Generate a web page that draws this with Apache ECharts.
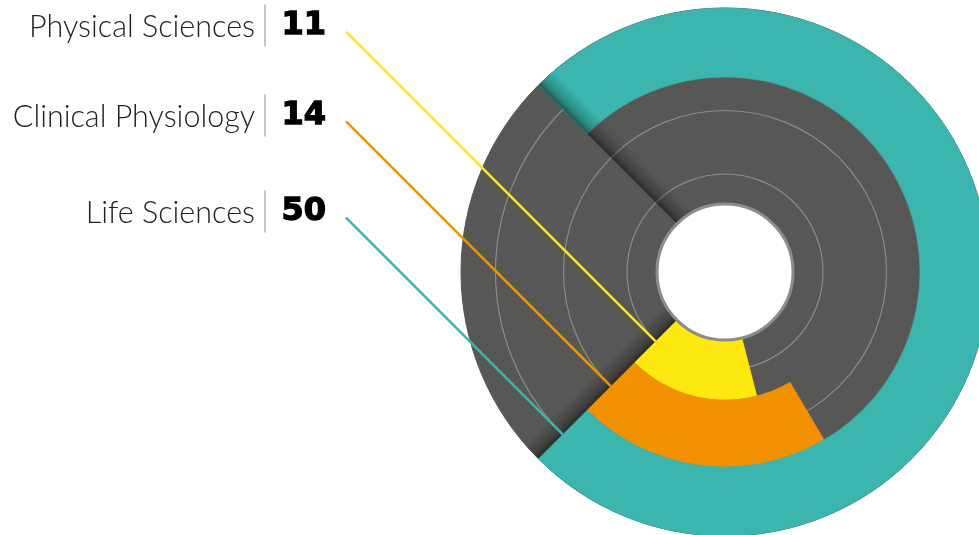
<!DOCTYPE html>
<html><head><meta charset="utf-8">
<script src="https://cdn.jsdelivr.net/npm/echarts@6/dist/echarts.min.js"></script>
<style>html,body{margin:0;padding:0;background:#fff}#c{width:979px;height:535px}</style>
</head><body><div id="c"></div>
<script>
// ---- data (rings listed inner -> outer) ----
const categories = ['Physical Sciences', 'Clinical Physiology', 'Life Sciences'];
const values = [11, 14, 50];
const colors = ['#fde910', '#f29100', '#3bb5ad'];
const angleMax = 66.7;

// ---- layout / style ----
const CENTER = [725, 272];
const RINGS = [[68, 128], [128, 195], [195, 264]];
const HOLE_R = 68;
const DARK = '#575755';
const LEAD_X = 346;

const chart = echarts.init(document.getElementById('c'), null, {renderer: 'canvas'});

const polar = RINGS.map(r => ({center: CENTER, radius: r}));
polar.push({center: CENTER, radius: HOLE_R});
const HOLE = RINGS.length;

const angleAxis = RINGS.map((r, i) => ({
  polarIndex: i, type: 'value', min: 0, max: angleMax, startAngle: 225, clockwise: false, show: false
}));
angleAxis.push({polarIndex: HOLE, type: 'value', min: 0, max: 1, z: 5,
  axisLine: {show: true, lineStyle: {color: '#8c8c8c', width: 3}},
  axisTick: {show: false}, axisLabel: {show: false}, splitLine: {show: false}, splitArea: {show: false}});

const radiusAxis = RINGS.map((r, i) => ({polarIndex: i, type: 'category', data: [categories[i]], show: false}));
radiusAxis.push({polarIndex: HOLE, type: 'value', show: false});

function edgeBand(params, api) {
  const cs = params.coordSys;
  const v = api.value(1);
  const cx = cs.cx, cy = cs.cy;
  const p = api.coord([0, v]);
  const dx = p[0] - cx, dy = p[1] - cy;
  const len = Math.hypot(dx, dy);
  const ux = dx / len, uy = dy / len;
  const q = api.coord([0, v - angleMax * 0.01]);
  let nx = -uy, ny = ux;
  if ((q[0] - p[0]) * nx + (q[1] - p[1]) * ny < 0) { nx = -nx; ny = -ny; }
  const W = 20;
  const r0 = cs.r0, r1 = cs.r;
  const a = [cx + ux * r0, cy + uy * r0], b = [cx + ux * r1, cy + uy * r1];
  return {
    type: 'polygon',
    shape: {points: [a, b, [b[0] + nx * W, b[1] + ny * W], [a[0] + nx * W, a[1] + ny * W]]},
    style: {
      fill: new echarts.graphic.LinearGradient(a[0], a[1], a[0] + nx * W, a[1] + ny * W, [
        {offset: 0, color: 'rgba(0,0,0,0.5)'},
        {offset: 0.35, color: 'rgba(0,0,0,0.22)'},
        {offset: 1, color: 'rgba(0,0,0,0)'}
      ], true)
    }
  };
}

const series = [];
RINGS.forEach((r, i) => {
  // dark track
  series.push({
    type: 'bar', coordinateSystem: 'polar', polarIndex: i, z: 1, silent: true,
    barCategoryGap: '0%', barGap: '-100%',
    itemStyle: {color: DARK, borderColor: DARK, borderWidth: 1},
    data: [angleMax]
  });
  // thin guide circle at the middle of the ring
  series.push({
    type: 'custom', coordinateSystem: 'polar', polarIndex: i, z: 2, silent: true,
    data: [[0, 0]],
    renderItem: function (params, api) {
      const cs = params.coordSys;
      const p = api.coord([0, 0]);
      return {type: 'circle', shape: {cx: cs.cx, cy: cs.cy, r: Math.hypot(p[0] - cs.cx, p[1] - cs.cy)},
        style: {fill: null, stroke: '#8a8a88', lineWidth: 1.2}};
    }
  });
  // value bar
  series.push({
    type: 'bar', coordinateSystem: 'polar', polarIndex: i, z: 3, silent: true,
    barCategoryGap: '0%', barGap: '-100%',
    itemStyle: {color: colors[i], borderColor: colors[i], borderWidth: 0.6},
    data: [values[i]]
  });
  // edge shading
  series.push({
    type: 'custom', coordinateSystem: 'polar', polarIndex: i, z: 4, silent: true,
    data: [[0, values[values.length - 1]], [0, angleMax]],
    renderItem: edgeBand
  });
  // label + leader line
  series.push({
    type: 'custom', coordinateSystem: 'polar', polarIndex: i, z: 6, silent: true,
    data: [[0, 0]],
    renderItem: function (params, api) {
      const p = api.coord([0, 0]);
      const sy = p[1] - (p[0] - LEAD_X);
      return {
        type: 'group',
        children: [
          {type: 'line', shape: {x1: LEAD_X, y1: sy, x2: p[0], y2: p[1]},
            style: {stroke: colors[i], lineWidth: 2.5}},
          {type: 'line', shape: {x1: 265, y1: sy - 27, x2: 265, y2: sy + 15},
            style: {stroke: '#c6c6c6', lineWidth: 2}},
          {type: 'text', style: {text: categories[i], x: 255, y: sy - 4, align: 'right', verticalAlign: 'middle',
            font: '300 30.5px Lato, "Open Sans", sans-serif', fill: '#222'}},
          {type: 'text', style: {text: String(values[i]), x: 281.5, y: sy - 5.5, align: 'left', verticalAlign: 'middle',
            font: 'bold 32px "DejaVu Sans", sans-serif', fill: '#000', stroke: '#000', lineWidth: 1.3}}
        ]
      };
    }
  });
});

chart.setOption({animation: false, polar, angleAxis, radiusAxis, series});
</script>
</body></html>
